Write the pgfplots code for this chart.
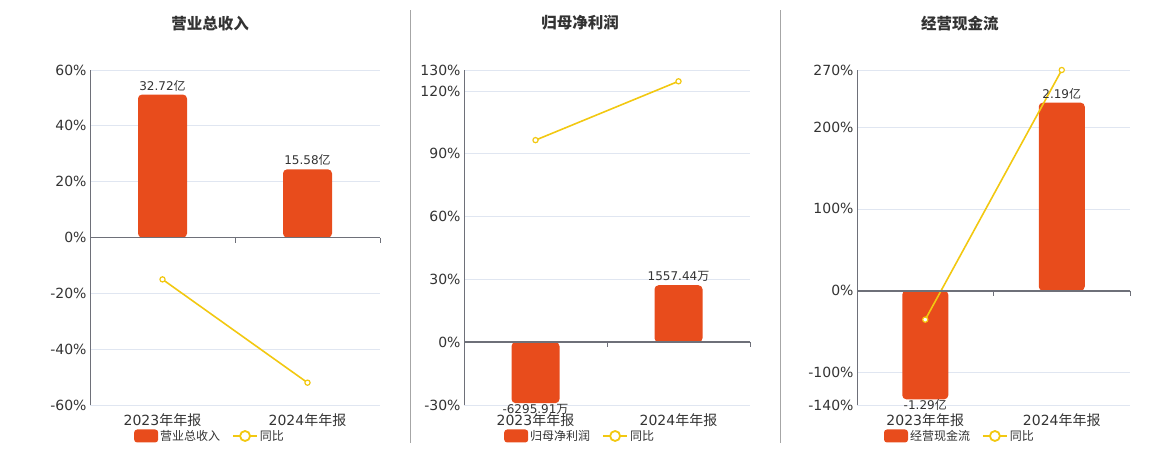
\documentclass[border=0pt]{standalone}
\usepackage{pgfplots}
\pgfplotsset{compat=1.18}
\usepackage{fontspec}
\setmainfont{DejaVu Sans}
\newfontfamily\cjk{Noto Sans CJK SC}
\definecolor{barc}{HTML}{E84C1C}
\definecolor{linec}{HTML}{F2C811}
\definecolor{axc}{HTML}{6E7079}
\definecolor{gridc}{HTML}{E0E6F1}
\definecolor{txt}{HTML}{333333}
\newcommand{\yi}{{\cjk 亿}}
\newcommand{\wan}{{\cjk 万}}
\newcommand{\nb}{{\cjk 年年报}}

\pgfplotsset{
  panel/.style={
    scale only axis, height=335pt, anchor=south west,
    axis lines*=left,
    x axis line style={draw=none},
    y axis line style={draw=axc, line width=0.8pt},
    xtick style={draw=none}, ytick style={draw=none},
    ymajorgrids, major grid style={gridc, line width=0.8pt},
    tick label style={font=\fontsize{14}{16}\selectfont, text=txt},
    xticklabel style={yshift=-5pt},
    xmin=-0.5, xmax=1.5, xtick={0,1},
    xticklabels={2023\nb, 2024\nb},
    clip=false,
    title style={anchor=center, yshift=0pt, font=\fontsize{15.5}{18}\selectfont\cjk\bfseries, text=txt},
    legend style={anchor=center, draw=none, fill=none, legend columns=2,
      font=\fontsize{12}{14}\selectfont\cjk, text=txt,
      /tikz/every even column/.append style={column sep=10pt}},
  },
  bars/.style={ybar, bar width=#1, fill=barc, draw=none, rounded corners=4pt,
    nodes near coords, point meta=explicit symbolic,
    visualization depends on={y \as \rawy},
    nodes near coords style={font=\fontsize{12}{14}\selectfont, text=txt,
      rounded corners=0pt, yshift={(\rawy<0)*(-15pt)}},
    legend image code/.code={\fill[barc, rounded corners=3pt] (0pt,-6.5pt) rectangle (24pt,6.5pt);}},
  yoy/.style={linec, line width=1.6pt, mark=*, mark size=2.6pt,
    mark options={fill=white, draw=linec, line width=1.2pt},
    legend image code/.code={\draw[linec, line width=1.8pt] (0pt,0pt) -- (24pt,0pt);
      \draw[linec, line width=1.8pt, fill=white] (12pt,0pt) circle (5pt);}},
}

\begin{document}
\begin{tikzpicture}
\path[use as bounding box] (0,0) rectangle (1160pt,450pt);
\draw[color=black!35, line width=0.8pt] (410pt,7pt) -- (410pt,440pt);
\draw[color=black!35, line width=0.8pt] (780pt,7pt) -- (780pt,440pt);

% panel 1
\begin{axis}[panel, at={(90pt,45pt)}, width=290pt,
  ymin=-60, ymax=60, ytick={-60,-40,-20,0,20,40,60},
  yticklabels={-60\%,-40\%,-20\%,0\%,20\%,40\%,60\%},
  title={营业总收入}, title style={at={(0.414,1.122)}},
  legend style={at={(0.414,-0.0925)}}]
  \addplot[bars=49pt] coordinates {(0,51.2)[32.72\yi] (1,24.4)[15.58\yi]};
  \addlegendentry{营业总收入}
  \addplot[yoy] coordinates {(0,-15.0) (1,-52.0)};
  \addlegendentry{同比}
  \draw[axc, line width=1.8pt] (axis cs:-0.5,0) -- (axis cs:1.5,0);
  \draw[axc, line width=0.8pt] (axis cs:0.5,0) -- ++(0pt,-5pt);
  \draw[axc, line width=0.8pt] (axis cs:1.5,0) -- ++(0pt,-5pt);
\end{axis}

% panel 2
\begin{axis}[panel, at={(464pt,45pt)}, width=286pt,
  ymin=-30, ymax=130, ytick={-30,0,30,60,90,120,130},
  yticklabels={-30\%,0\%,30\%,60\%,90\%,120\%,130\%},
  title={归母净利润}, title style={at={(0.406,1.122)}},
  legend style={at={(0.406,-0.0925)}}]
  \addplot[bars=48pt] coordinates {(0,-29.1)[-6295.91\wan] (1,27.2)[1557.44\wan]};
  \addlegendentry{归母净利润}
  \addplot[yoy] coordinates {(0,96.5) (1,124.6)};
  \addlegendentry{同比}
  \draw[axc, line width=1.8pt] (axis cs:-0.5,0) -- (axis cs:1.5,0);
  \draw[axc, line width=0.8pt] (axis cs:0.5,0) -- ++(0pt,-5pt);
  \draw[axc, line width=0.8pt] (axis cs:1.5,0) -- ++(0pt,-5pt);
\end{axis}

% panel 3
\begin{axis}[panel, at={(857pt,45pt)}, width=273pt,
  ymin=-140, ymax=270, ytick={-140,-100,0,100,200,270},
  yticklabels={-140\%,-100\%,0\%,100\%,200\%,270\%},
  title={经营现金流}, title style={at={(0.377,1.122)}},
  legend style={at={(0.377,-0.0925)}}]
  \addplot[bars=46pt] coordinates {(0,-133)[-1.29\yi] (1,230)[2.19\yi]};
  \addlegendentry{经营现金流}
  \addplot[yoy] coordinates {(0,-35.5) (1,270)};
  \addlegendentry{同比}
  \draw[axc, line width=1.8pt] (axis cs:-0.5,0) -- (axis cs:1.5,0);
  \draw[axc, line width=0.8pt] (axis cs:0.5,0) -- ++(0pt,-5pt);
  \draw[axc, line width=0.8pt] (axis cs:1.5,0) -- ++(0pt,-5pt);
\end{axis}
\end{tikzpicture}
\end{document}
